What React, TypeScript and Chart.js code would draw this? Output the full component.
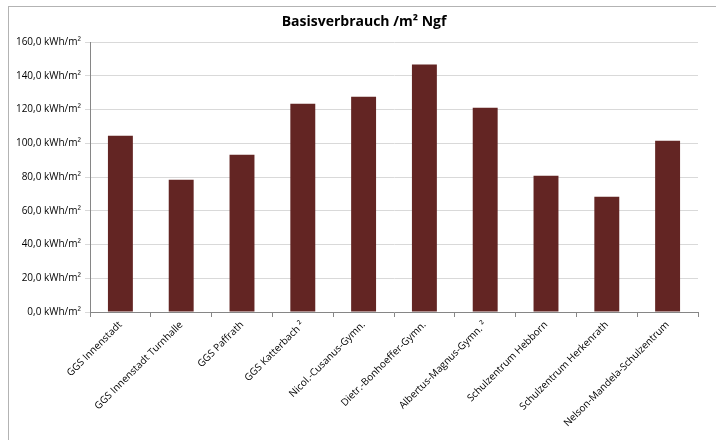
import React, { useEffect, useRef } from "react";
import { Chart, registerables } from "chart.js";

Chart.register(...registerables);

const categories: string[] = [
  "GGS Innenstadt",
  "GGS Innenstadt Turnhalle",
  "GGS Paffrath",
  "GGS Katterbach ²",
  "Nicol.-Cusanus-Gymn.",
  "Dietr.-Bonhoeffer-Gymn.",
  "Albertus-Magnus-Gymn. ²",
  "Schulzentrum Hebborn",
  "Schulzentrum Herkenrath",
  "Nelson-Mandela-Schulzentrum",
];

const values: number[] = [104.5, 78.4, 93.2, 123.4, 127.6, 146.6, 121.1, 80.8, 68.3, 101.5];

const yTicks: number[] = [0, 20, 40, 60, 80, 100, 120, 140, 160];

const titleText = "Basisverbrauch /m² Ngf";

const FONT = "'Open Sans', 'Liberation Sans', sans-serif";

export default function App() {
  const ref = useRef<HTMLCanvasElement | null>(null);

  useEffect(() => {
    if (!ref.current) return;
    const titlePlugin = {
      id: "customTitle",
      afterDraw(chart: any) {
        const ctx = chart.ctx;
        ctx.save();
        ctx.font = `bold 14px ${FONT}`;
        ctx.fillStyle = "#000";
        ctx.textAlign = "center";
        ctx.textBaseline = "middle";
        ctx.fillText(titleText, 364, 22);
        ctx.restore();
      },
    };
    const chart = new Chart(ref.current, {
      type: "bar",
      data: {
        labels: categories,
        datasets: [
          {
            data: values,
            backgroundColor: "#632523",
            borderWidth: 0,
            barPercentage: 0.41,
            categoryPercentage: 1,
          },
        ],
      },
      plugins: [titlePlugin],
      options: {
        animation: false,
        responsive: false,
        devicePixelRatio: 1,
        layout: { padding: { top: 42, right: 18, left: 0, bottom: 0 } },
        plugins: {
          legend: { display: false },
          title: { display: false },
          tooltip: { enabled: false },
        },
        scales: {
          x: {
            offset: true,
            grid: {
              display: true,
              drawOnChartArea: false,
              offset: true,
              tickLength: 5,
              color: "#868686",
            },
            border: { color: "#868686" },
            ticks: {
              autoSkip: false,
              maxRotation: 45,
              minRotation: 45,
              padding: 2,
              color: "#000",
              font: { family: FONT, size: 10 },
            },
            afterFit(scale: any) {
              scale.height = 128;
            },
          },
          y: {
            min: 0,
            max: 160,
            afterBuildTicks(scale: any) {
              scale.ticks = yTicks.map((v) => ({ value: v }));
            },
            grid: {
              color: "#d9d9d9",
              tickLength: 5,
            },
            border: { color: "#868686" },
            ticks: {
              padding: 4,
              color: "#000",
              font: { family: FONT, size: 10 },
              callback: (v: any) => `${Number(v).toFixed(1).replace(".", ",")} kWh/m²`,
            },
            afterFit(scale: any) {
              scale.width = 90;
            },
          },
        },
      },
    });
    return () => chart.destroy();
  }, []);

  return (
    <div style={{ position: "fixed", left: 0, top: 0, width: 716, height: 440, background: "#fff" }}>
      <div
        style={{
          position: "absolute",
          left: 8,
          top: 6,
          width: 708,
          height: 434,
          borderLeft: "1px solid #b3b3b3",
          borderTop: "1px solid #b3b3b3",
        }}
      />
      <canvas ref={ref} width={716} height={440} style={{ position: "absolute", left: 0, top: 0 }} />
    </div>
  );
}
